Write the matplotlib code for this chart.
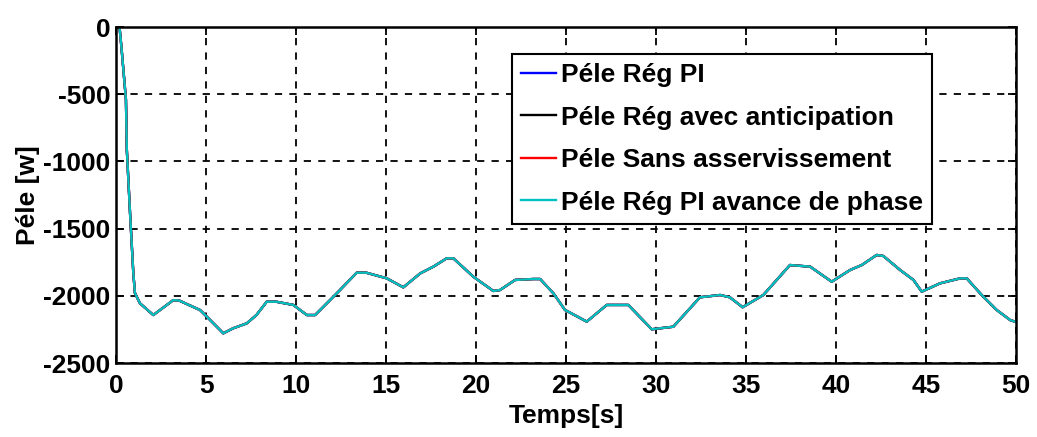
import matplotlib
matplotlib.use('Agg')
import matplotlib.pyplot as plt

# Temps [s] et puissance électrique [w]
temps = [0, 0.2, 0.3, 0.55, 0.6, 0.78, 0.96, 1.05, 1.33, 2.07, 3.18, 3.5, 4.67, 5.04,
         5.96, 6.5, 7.26, 7.8, 8.37, 8.9, 9.85, 10.6, 11.06, 12.26, 13.37, 13.9,
         15.04, 15.96, 16.9, 17.63, 18.37, 18.74, 19.85, 20.96, 21.33, 22.17, 23.18,
         23.56, 24.3, 24.94, 26.15, 27.26, 28.46, 29.76, 30.96, 32.44, 33.56, 34.1,
         34.81, 35.96, 37.44, 38.56, 39.76, 40.78, 41.43, 42.26, 42.63, 43.56, 44.3,
         44.76, 45.78, 46.9, 47.26, 48.09, 48.92, 49.67, 50]
p_ele = [0, -10, -150, -540, -915, -1390, -1832, -1980, -2056, -2143, -2032, -2035,
         -2106, -2155, -2279, -2242, -2205, -2143, -2044, -2044, -2068, -2143, -2143,
         -1982, -1828, -1828, -1870, -1937, -1833, -1783, -1721, -1721, -1858, -1964,
         -1957, -1882, -1875, -1875, -1982, -2105, -2192, -2068, -2068, -2249, -2230,
         -2011, -1994, -2011, -2085, -1994, -1771, -1783, -1895, -1808, -1771, -1696,
         -1704, -1808, -1882, -1969, -1907, -1870, -1870, -1994, -2105, -2180, -2195]

series_labels = ['Péle Rég PI', 'Péle Rég avec anticipation',
                 'Péle Sans asservissement', 'Péle Rég PI avance de phase']
series_colors = ['#0000ff', '#000000', '#ff0000', '#00c0c0']

plt.rcParams['font.family'] = ['Liberation Sans', 'DejaVu Sans']
plt.rcParams['font.weight'] = 'bold'
plt.rcParams['axes.unicode_minus'] = False

fig = plt.figure(figsize=(10.37, 4.37), dpi=100)
ax = fig.add_axes([0.1119, 0.1693, 0.8679, 0.7689])

for lab, col in zip(series_labels, series_colors):
    ax.plot(temps, p_ele, color=col, linewidth=1.7, label=lab)

ax.set_xlim(0, 50)
ax.set_ylim(-2500, 0)
ax.set_xticks(range(0, 51, 5))
ax.set_yticks(range(-2500, 1, 500))
ax.grid(True, color='black', linestyle=(0, (4, 4)), linewidth=1.3)
ax.tick_params(direction='in', top=True, right=True, length=6, width=1.3,
               labelsize=19)
ax.tick_params(axis='x', pad=8)
ax.tick_params(axis='y', pad=4)
for s in ax.spines.values():
    s.set_linewidth(1.8)

ax.set_xlabel('Temps[s]', fontsize=19, fontweight='bold', labelpad=4)
ax.set_ylabel('Péle [w]', fontsize=19, fontweight='bold', labelpad=2)

leg = ax.legend(loc='upper left', bbox_to_anchor=(0.44, 0.92), borderaxespad=0,
                fontsize=19, handlelength=1.3, handletextpad=0.2,
                labelspacing=0.7, borderpad=0.35, fancybox=False,
                edgecolor='black', framealpha=1)
leg.get_frame().set_linewidth(1.5)
for t in leg.get_texts():
    t.set_fontweight('bold')

fig.savefig('out.png', dpi=100)
